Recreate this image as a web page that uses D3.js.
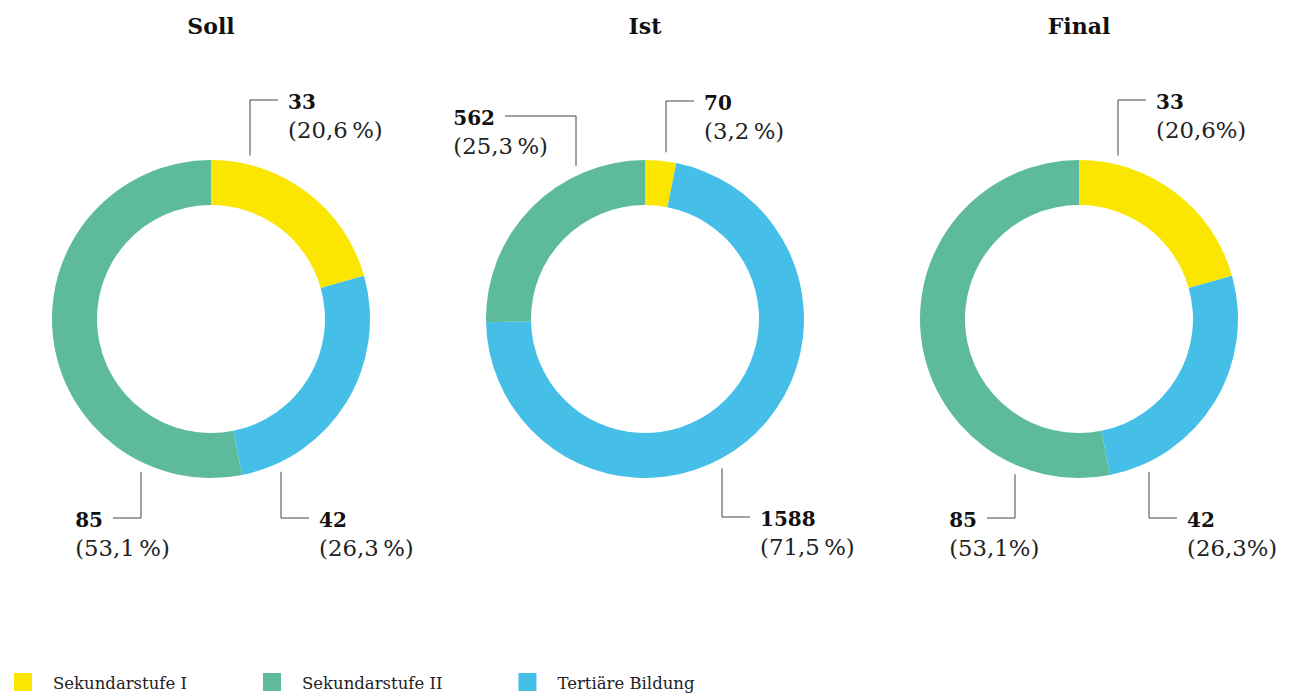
<!DOCTYPE html>
<html>
<head>
<meta charset="utf-8">
<script src="https://cdn.jsdelivr.net/npm/d3@7"></script>
<style>
body { margin: 0; background: #fff; }
svg { display: block; font-family: "DejaVu Serif", serif; }
</style>
</head>
<body>
<svg id="chart"></svg>
<script>
var categories = ["Sekundarstufe I", "Sekundarstufe II", "Tertiäre Bildung"];
var chartTitles = ["Soll", "Ist", "Final"];
var sollValues = [33, 85, 42];
var istValues = [70, 562, 1588];
var finalValues = [33, 85, 42];
var percentGap = ["\u2009", "\u2009", ""]; // "Final" is written without the thin space
var colors = ["#fae600", "#5dbb9c", "#45bfe8"];
var sliceOrder = [0, 2, 1]; // clockwise from 12 o'clock: Sek I, Tertiär, Sek II

var width = 1292, height = 697;
var outerR = 159, innerR = 114, cy = 319;

// leader lines, relative to each donut's centre (one per category)
var labelLayout = [
  [{vx: 39, y: -219, len: 28, side: "right"}, {vx: -70, y: 199, len: 28, side: "left"}, {vx: 70, y: 199, len: 28, side: "right"}],
  [{vx: 21, y: -218, len: 28, side: "right"}, {vx: -69, y: -203, len: 71, side: "left"}, {vx: 77, y: 198, len: 28, side: "right"}],
  [{vx: 39, y: -219, len: 28, side: "right"}, {vx: -64, y: 199, len: 28, side: "left"}, {vx: 70, y: 199, len: 28, side: "right"}]
];

var allValues = [sollValues, istValues, finalValues];

var svg = d3.select("#chart")
  .attr("width", width)
  .attr("height", height);

var x = d3.scalePoint()
  .domain(chartTitles)
  .range([211, 1079]);

var color = d3.scaleOrdinal()
  .domain(categories)
  .range(colors);

var pie = d3.pie()
  .sort(null)
  .value(function(d) { return d.value; });

var arc = d3.arc()
  .innerRadius(innerR)
  .outerRadius(outerR);

var leaderR = outerR + 9;

chartTitles.forEach(function(title, ci) {
  var values = allValues[ci];
  var total = d3.sum(values);
  var g = svg.append("g")
    .attr("transform", "translate(" + x(title) + "," + cy + ")");

  svg.append("text")
    .attr("x", x(title))
    .attr("y", 34)
    .attr("text-anchor", "middle")
    .attr("font-weight", "bold")
    .attr("font-size", 22)
    .attr("fill", "#111")
    .text(title);

  var slices = sliceOrder.map(function(k) {
    return {cat: categories[k], value: values[k]};
  });

  g.selectAll("path.slice")
    .data(pie(slices))
    .enter().append("path")
    .attr("class", "slice")
    .attr("d", arc)
    .attr("fill", function(d) { return color(d.data.cat); });

  categories.forEach(function(cat, k) {
    var lay = labelLayout[ci][k];
    var sign = lay.y < 0 ? -1 : 1;
    var y0 = sign * Math.sqrt(leaderR * leaderR - lay.vx * lay.vx);
    var hx = lay.side == "right" ? lay.vx + lay.len : lay.vx - lay.len;

    g.append("path")
      .attr("d", "M" + lay.vx + "," + y0 + "V" + lay.y + "H" + hx)
      .attr("fill", "none")
      .attr("stroke", "#444")
      .attr("stroke-width", 1);

    var pct = (values[k] / total * 100).toFixed(1).replace(".", ",");

    var num = g.append("text")
      .attr("y", lay.y + 9)
      .attr("font-weight", "bold")
      .attr("font-size", 20)
      .attr("fill", "#111")
      .text(values[k]);

    var tx = hx + 10;
    if (lay.side == "left") {
      tx = hx - 10 - num.node().getComputedTextLength();
    }
    num.attr("x", tx);

    g.append("text")
      .attr("x", tx)
      .attr("y", lay.y + 38)
      .attr("font-size", 22.8)
      .attr("fill", "#222")
      .text("(" + pct + percentGap[ci] + "%)");
  });
});

// legend
var lx = 14;
categories.forEach(function(cat) {
  svg.append("rect")
    .attr("x", lx)
    .attr("y", 673)
    .attr("width", 18)
    .attr("height", 18)
    .attr("fill", color(cat));
  var t = svg.append("text")
    .attr("x", lx + 39)
    .attr("y", 689)
    .attr("font-size", 16.5)
    .attr("fill", "#222")
    .text(cat);
  lx = lx + 39 + t.node().getComputedTextLength() + 76;
});
</script>
</body>
</html>
